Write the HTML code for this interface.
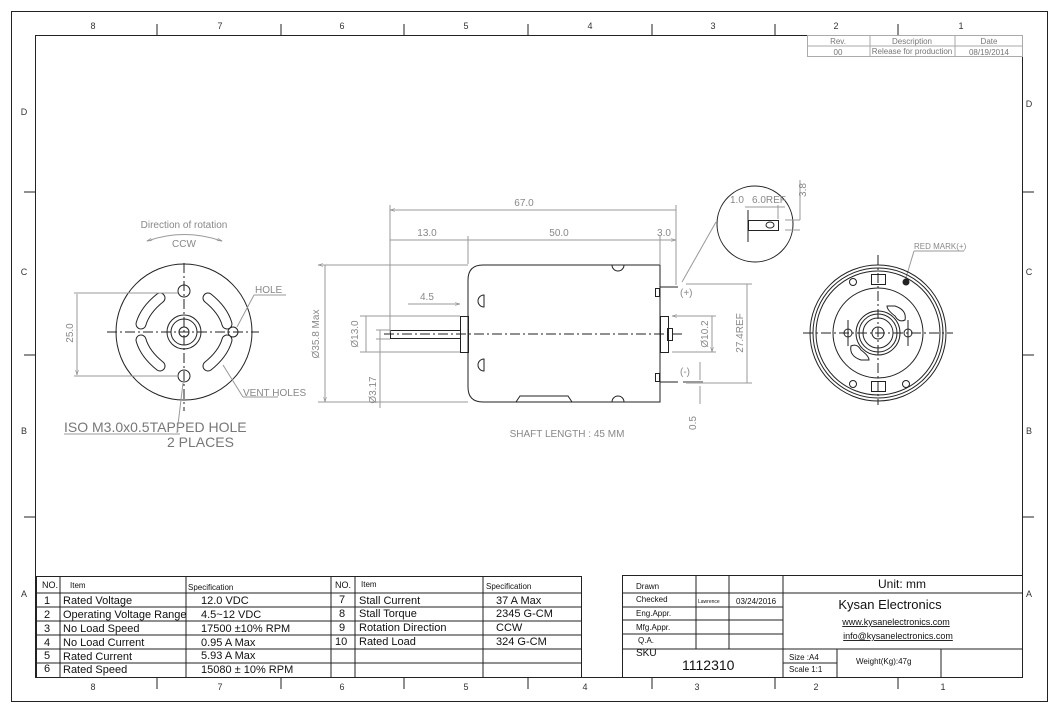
<!DOCTYPE html>
<html><head><meta charset="utf-8"><style>
body{margin:0;background:#fff;}
svg{display:block;font-family:"Liberation Sans",sans-serif;}
.d{stroke:#999;stroke-width:1;fill:none}
.k{stroke:#222;stroke-width:1;fill:none}
.c{stroke:#222;stroke-width:1;fill:none;stroke-dasharray:10 3 2 3}
.g{fill:#888;font-size:10px;stroke:none}
.t{fill:#111;font-size:11px}
.s{fill:#111;font-size:8px}
</style></head><body>
<svg width="1060" height="713" viewBox="0 0 1060 713">
<defs><marker id="a" viewBox="0 0 10 10" refX="10" refY="5" markerWidth="7" markerHeight="5" orient="auto-start-reverse"><path d="M0,2L10,5L0,8" fill="none" stroke="#888"/></marker></defs>
<rect x="11.5" y="11.5" width="1036" height="690" class="k"/>
<rect x="35.5" y="35.5" width="987" height="642" class="k"/>
<g fill="#333" font-size="9" text-anchor="middle">
<text x="93" y="29">8</text><text x="220" y="29">7</text><text x="342" y="29">6</text><text x="466" y="29">5</text><text x="590" y="29">4</text><text x="713" y="29">3</text><text x="836" y="29">2</text><text x="961" y="29">1</text>
<text x="93" y="690">8</text><text x="220" y="690">7</text><text x="342" y="690">6</text><text x="466" y="690">5</text><text x="585" y="690">4</text><text x="697" y="690">3</text><text x="816" y="690">2</text><text x="943" y="690">1</text>
<text x="24" y="115">D</text><text x="24" y="275">C</text><text x="24" y="434">B</text><text x="24" y="597">A</text>
<text x="1029" y="107">D</text><text x="1029" y="275">C</text><text x="1029" y="434">B</text><text x="1029" y="597">A</text>
</g>
<g class="k"><path d="M157 24v11M281 24v11M404 24v11M528 24v11M652 24v11M775 24v11M898 24v11M157 678v11M281 678v11M404 678v11M528 678v11M652 678v11M775 678v11M898 678v11M24 192h11M24 355h11M24 517h11M1023 192h11M1023 355h11M1023 517h11"/></g>
<!-- revision table -->
<g stroke="#aaa" fill="none"><rect x="807.5" y="35.5" width="215" height="21"/><path d="M807 46h215M870 35v21M955 35v21"/></g>
<g fill="#777" font-size="8" text-anchor="middle"><text x="838" y="44">Rev.</text><text x="912" y="44">Description</text><text x="989" y="44">Date</text><text x="838" y="55">00</text><text x="912" y="54">Release for production</text><text x="989" y="55">08/19/2014</text></g>
<!-- spec table -->
<g class="k"><rect x="36.5" y="576.5" width="545" height="101"/>
<path d="M36 593h545M36 607h545M36 621h545M36 635h545M36 649h545M36 663h545M60 577v100M186 577v100M331 577v100M355 577v100M483 577v100"/></g>
<g font-size="11" fill="#111">
<text x="42" y="588" font-size="9">NO.</text><text x="70" y="588" font-size="8">Item</text><text x="188" y="590" font-size="8">Specification</text>
<text x="335" y="588" font-size="9">NO.</text><text x="361" y="587" font-size="8">Item</text><text x="486" y="589" font-size="8">Specification</text>
<text x="44" y="604">1</text><text x="63" y="604">Rated Voltage</text><text x="201" y="604">12.0 VDC</text>
<text x="44" y="618">2</text><text x="63" y="618">Operating Voltage Range</text><text x="201" y="618">4.5~12 VDC</text>
<text x="44" y="632">3</text><text x="63" y="632">No Load Speed</text><text x="201" y="632">17500 ±10%  RPM</text>
<text x="44" y="646">4</text><text x="63" y="646">No Load Current</text><text x="201" y="646">0.95  A Max</text>
<text x="44" y="659">5</text><text x="63" y="660">Rated Current</text><text x="201" y="659">5.93 A Max</text>
<text x="44" y="672">6</text><text x="63" y="673">Rated Speed</text><text x="201" y="673">15080 ± 10% RPM</text>
<text x="339" y="603">7</text><text x="359" y="604">Stall Current</text><text x="496" y="604">37 A Max</text>
<text x="339" y="617">8</text><text x="359" y="617">Stall Torque</text><text x="496" y="617">2345 G-CM</text>
<text x="339" y="631">9</text><text x="359" y="631">Rotation  Direction</text><text x="496" y="631">CCW</text>
<text x="335" y="645">10</text><text x="359" y="645">Rated Load</text><text x="496" y="645">324 G-CM</text>
</g>
<!-- title block -->
<g class="k"><rect x="622.5" y="575.5" width="400" height="102"/>
<path d="M622 593h161M622 607h161M622 620h161M622 634h161M622 649h400M696 576v73M729 576v73M783 576v102M783 593h239M783 663h54M837 649v29M941 649v29"/></g>
<g fill="#111" font-size="8">
<text x="636" y="589">Drawn</text><text x="636" y="602">Checked</text><text x="636" y="616">Eng.Appr.</text><text x="636" y="630">Mfg.Appr.</text><text x="638" y="643">Q.A.</text>
<text x="698" y="603" font-size="5">Lawrence</text><text x="736" y="604">03/24/2016</text>
<text x="636" y="656" font-size="10">SKU</text><text x="682" y="670" font-size="14">1112310</text>
<text x="789" y="660">Size :A4</text><text x="789" y="672">Scale 1:1</text><text x="856" y="664">Weight(Kg):47g</text>
<text x="902" y="588" font-size="12" text-anchor="middle">Unit: mm</text>
<text x="890" y="609" font-size="13" text-anchor="middle">Kysan Electronics</text>
<text x="896" y="625" font-size="9" text-anchor="middle" text-decoration="underline">www.kysanelectronics.com</text>
<text x="898" y="639" font-size="9" text-anchor="middle" text-decoration="underline">info@kysanelectronics.com</text>
</g>
<!-- left view -->
<text x="184" y="228" class="g" text-anchor="middle">Direction of rotation</text>
<text x="184" y="247" class="g" text-anchor="middle">CCW</text>
<path d="M147 241Q184 228 222 241" class="d" marker-start="url(#a)" marker-end="url(#a)"/>
<circle cx="184" cy="332" r="68" class="k"/>
<path d="M107 332h152M184 263v148" class="c"/>
<circle cx="184" cy="332" r="17" class="k"/><circle cx="184" cy="332" r="13" class="k"/><circle cx="184" cy="332" r="5" class="k"/>
<circle cx="184" cy="291" r="6" class="k"/><circle cx="184" cy="376" r="6" class="k"/><circle cx="233" cy="332" r="5" class="k"/>
<g class="k" stroke-linecap="round">
<path d="M160 298Q145 310 141 324" stroke-width="11"/><path d="M160 298Q145 310 141 324" stroke="#fff" stroke-width="9"/>
<path d="M208 298Q223 310 227 324" stroke-width="11"/><path d="M208 298Q223 310 227 324" stroke="#fff" stroke-width="9"/>
<path d="M160 366Q145 354 141 340" stroke-width="11"/><path d="M160 366Q145 354 141 340" stroke="#fff" stroke-width="9"/>
<path d="M208 366Q223 354 227 340" stroke-width="11"/><path d="M208 366Q223 354 227 340" stroke="#fff" stroke-width="9"/>
</g>
<path d="M74 293h104M74 376h104M77 294v81" class="d"/>
<path d="M77 300v-6M77 369v6" class="d" marker-end="url(#a)"/>
<text x="73" y="333" class="g" transform="rotate(-90 73 333)" text-anchor="middle">25.0</text>
<text x="255" y="293" class="g" font-size="11">HOLE</text><path d="M254 295h32M254 295l-17 32" class="d"/>
<text x="243" y="396" class="g" font-size="11">VENT HOLES</text><path d="M243 397h35M243 397l-20 -32" class="d"/>
<text x="64" y="432" fill="#777" font-size="14">ISO M3.0x0.5TAPPED HOLE</text><path d="M64 434h116M177 433l6-50" class="d"/>
<text x="167" y="447" fill="#777" font-size="14">2 PLACES</text>
<!-- center view -->
<path d="M468 280Q468 265 483 265H660V402H483Q468 402 468 387Z" class="k"/>
<path d="M612 265a6 6 0 0 0 12 0M612 402a6 6 0 0 1 12 0" class="k" fill="#fff"/>
<path d="M484 295a6 6 0 0 0 0 12ZM484 359a6 6 0 0 0 0 12Z" class="k"/>
<path d="M516 402l4-6h48l4 6" class="k"/>
<rect x="460.5" y="316.5" width="8" height="36" class="k"/>
<rect x="390.5" y="330.5" width="70" height="8" class="k"/>
<rect x="660.5" y="316.5" width="8" height="36" class="k"/>
<rect x="667.5" y="328.5" width="5" height="12" class="k"/>
<path d="M660 287h18M660 382h18" class="k"/>
<path d="M384 334h300" class="c"/>
<rect x="655.5" y="288.5" width="4" height="8" class="k"/><rect x="655.5" y="373.5" width="4" height="8" class="k"/>
<text x="680" y="296" class="g" font-size="8">(+)</text><text x="680" y="375" class="g" font-size="8">(-)</text>
<path d="M683 382h20" stroke="#999" stroke-width="2"/>
<g class="d">
<path d="M390 205v128M676 205v80M468 236v28M660 236v28M676 236v10"/>
<path d="M390 210h286M390 240h78M468 240h192M660 240h16" marker-start="url(#a)" marker-end="url(#a)"/>
<path d="M318 265h150M318 402h150M325 265v137" marker-start="url(#a)" marker-end="url(#a)"/>
<text x="524" y="206" class="g" text-anchor="middle">67.0</text>
<text x="427" y="236" class="g" text-anchor="middle">13.0</text>
<text x="559" y="236" class="g" text-anchor="middle">50.0</text>
<text x="664" y="236" class="g" text-anchor="middle">3.0</text>
<text x="319" y="334" class="g" transform="rotate(-90 319 334)" text-anchor="middle">Ø35.8 Max</text>
<path d="M408 304h52" marker-end="url(#a)"/><text x="420" y="300" class="g">4.5</text>
<path d="M360 316h100M360 352h100M366 316v36M376 330h14M376 339h14M380 330v78"/>
<text x="358" y="334" class="g" font-size="9" transform="rotate(-90 358 334)" text-anchor="middle">Ø13.0</text>
<text x="376" y="390" class="g" font-size="9" transform="rotate(-90 376 390)" text-anchor="middle">Ø3.17</text>
<path d="M672 316h44M672 352h44M712 316v36" marker-start="url(#a)" marker-end="url(#a)"/>
<text x="708" y="334" class="g" transform="rotate(-90 708 334)" text-anchor="middle">Ø10.2</text>
<path d="M686 284h66M686 383h66M747 284v99"/>
<text x="743" y="333" class="g" transform="rotate(-90 743 333)" text-anchor="middle">27.4REF</text>
<path d="M700 362v18M700 386v18"/><text x="696" y="423" class="g" font-size="9" transform="rotate(-90 696 423)" text-anchor="middle">0.5</text>
<text x="567" y="437" class="g" font-size="9" text-anchor="middle">SHAFT LENGTH : 45 MM</text>
</g>
<!-- detail circle -->
<circle cx="755" cy="224" r="38" class="k"/>
<path d="M682 282L716 222" class="d"/>
<path d="M748 210v32" class="k"/><rect x="748.5" y="220.5" width="30" height="10" class="k"/><ellipse cx="770" cy="225" rx="4" ry="3" class="k"/>
<text x="730" y="203" class="g" font-size="9">1.0</text><text x="752" y="203" class="g" font-size="9">6.0REF</text>
<path d="M745 207h40M778 205v14" class="d"/>
<path d="M785 220h15M785 230h15M800 180v40" class="d"/>
<text x="806" y="190" class="g" font-size="9" transform="rotate(-90 806 190)" text-anchor="middle">3.8</text>
<!-- right view -->
<text x="914" y="249" fill="#888" font-size="8">RED MARK(+)</text><path d="M914 251h50M914 251l-9 30" class="d"/>
<circle cx="878" cy="333" r="68" class="k"/><circle cx="878" cy="333" r="65" class="k"/><circle cx="878" cy="333" r="62" class="k" stroke="#888"/>
<circle cx="878" cy="333" r="45" class="k"/><circle cx="878" cy="333" r="22" class="k"/><circle cx="878" cy="333" r="19" class="k"/><circle cx="878" cy="333" r="15" class="k"/><circle cx="878" cy="333" r="6" class="k"/>
<path d="M803 333h150M878 255v150" class="c"/>
<circle cx="848" cy="333" r="4" class="k"/><circle cx="908" cy="333" r="4" class="k"/>
<path d="M848 320v26M908 320v26" class="k"/>
<rect x="871.5" y="274.5" width="14" height="10" class="k"/><rect x="871.5" y="381.5" width="14" height="10" class="k"/>
<circle cx="853" cy="282" r="3.5" class="k"/><circle cx="906" cy="282" r="3.5" fill="#222"/><circle cx="853" cy="384" r="3.5" class="k"/><circle cx="906" cy="384" r="3.5" class="k"/>
<path d="M895 306q12 4 10 14q-6 3-10-4q-8-6-8-10z" class="k"/><path d="M861 360q-12-4-10-14q6-3 10 4q8 6 8 10z" class="k"/>
</svg>
</body></html>
